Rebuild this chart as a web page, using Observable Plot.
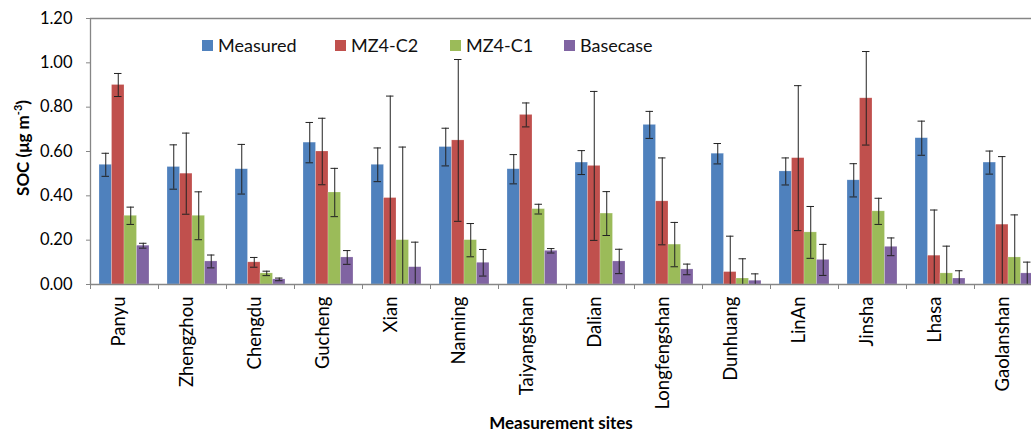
<!DOCTYPE html>
<html>
<head>
<meta charset="utf-8">
<script src="https://cdn.jsdelivr.net/npm/d3@7"></script>
<script src="https://cdn.jsdelivr.net/npm/@observablehq/plot@0.6"></script>
<style>
  html, body { margin: 0; padding: 0; background: #fff; }
  #wrap { position: relative; width: 1031px; height: 432px; overflow: hidden; font-family: Lato, "Open Sans", sans-serif; }
  .leg { position: absolute; top: 34px; font-size: 18px; line-height: 22px; color: #111; display: flex; align-items: center; }
  .leg span.sw { display: inline-block; width: 11px; height: 11px; margin-right: 5px; }
  #ytitle { position: absolute; left: 22px; top: 148px; transform: translate(-50%, -50%) rotate(-90deg); font-weight: bold; font-size: 17px; white-space: nowrap; color: #000; }
  #xtitle { position: absolute; left: 561px; top: 422px; transform: translate(-50%, -50%); font-weight: bold; font-size: 17px; white-space: nowrap; color: #000; }
</style>
</head>
<body>
<div id="wrap"></div>
<script>
const sites = ["Panyu","Zhengzhou","Chengdu","Gucheng","Xian","Nanning","Taiyangshan","Dalian","Longfengshan","Dunhuang","LinAn","Jinsha","Lhasa","Gaolanshan"];
const seriesNames = ["Measured","MZ4-C2","MZ4-C1","Basecase"];
const seriesColors = ["#4F81BD","#C0504D","#9BBB59","#8064A2"];
const measured    = [0.54,0.53,0.52,0.64,0.54,0.62,0.52,0.55,0.72,0.59,0.51,0.47,0.66,0.55];
const measuredErr = [0.052,0.10,0.112,0.091,0.076,0.085,0.066,0.054,0.061,0.046,0.061,0.075,0.077,0.052];
const mz4c2       = [0.90,0.50,0.10,0.60,0.39,0.65,0.765,0.535,0.375,0.056,0.57,0.84,0.13,0.27];
const mz4c2Err    = [0.052,0.183,0.022,0.15,0.46,0.365,0.054,0.336,0.196,0.162,0.327,0.211,0.206,0.307];
const mz4c1       = [0.31,0.31,0.05,0.415,0.20,0.20,0.34,0.32,0.18,0.027,0.235,0.33,0.05,0.122];
const mz4c1Err    = [0.039,0.108,0.01,0.109,0.42,0.075,0.022,0.099,0.10,0.089,0.117,0.059,0.123,0.192];
const basecase    = [0.175,0.104,0.023,0.122,0.078,0.098,0.152,0.104,0.068,0.017,0.111,0.17,0.027,0.05];
const basecaseErr = [0.011,0.029,0.006,0.031,0.113,0.06,0.01,0.055,0.024,0.031,0.07,0.04,0.035,0.051];
const yTicks = [0,0.2,0.4,0.6,0.8,1.0,1.2];

const values = [measured, mz4c2, mz4c1, basecase];
const errs = [measuredErr, mz4c2Err, mz4c1Err, basecaseErr];
const rows = [];
sites.forEach((s, i) => seriesNames.forEach((n, k) => rows.push({site: s, i, k, series: n, value: values[k][i], err: errs[k][i]})));

const OFF = 0.1325, BW = 0.18375;
const x1 = d => d.i + OFF + d.k * BW;
const xc = d => d.i + OFF + (d.k + 0.5) * BW;

const chart = Plot.plot({
  width: 1031,
  height: 432,
  marginLeft: 90,
  marginRight: 0,
  marginTop: 18,
  marginBottom: 148,
  style: {fontFamily: "Lato, 'Open Sans', sans-serif", fontSize: "16px", color: "#000", background: "#fff", overflow: "hidden"},
  x: {domain: [0, sites.length], range: [90, 1042]},
  y: {domain: [0, 1.2], range: [284, 18]},
  color: {domain: seriesNames, range: seriesColors},
  marks: [
    Plot.rectY(rows, {x1: x1, x2: d => x1(d) + BW, y: "value", fill: "series", stroke: "#ffffff", strokeOpacity: 0.35, strokeWidth: 0.6}),
    Plot.ruleX(rows, {x: xc, y1: d => d.value - d.err, y2: d => d.value + d.err, stroke: "#222", strokeWidth: 1, clip: true}),
    Plot.ruleY(rows, {y: d => d.value + d.err, x1: d => xc(d) - 0.055, x2: d => xc(d) + 0.055, stroke: "#222", strokeWidth: 1, clip: true}),
    Plot.ruleY(rows, {y: d => d.value - d.err, x1: d => xc(d) - 0.055, x2: d => xc(d) + 0.055, stroke: "#222", strokeWidth: 1, clip: true}),
    Plot.ruleY([1.2], {stroke: "#868686", strokeWidth: 1.3}),
    Plot.ruleY([0], {stroke: "#868686", strokeWidth: 1.3}),
    Plot.ruleX([0], {stroke: "#868686", strokeWidth: 1.3}),
    Plot.axisY({ticks: yTicks, tickFormat: d3.format(".2f"), tickSize: 4, tickPadding: 14, label: null, stroke: "#868686", fontSize: 16.5, fill: "#000"}),
    Plot.axisX({ticks: d3.range(sites.length + 1), tickSize: 5, tickFormat: () => "", label: null, stroke: "#868686"}),
    Plot.text(sites, {x: (d, i) => i + 0.5, text: d => d, frameAnchor: "bottom", dy: 12, rotate: -90, textAnchor: "end", fontSize: 18.5, fill: "#000"})
  ]
});

const wrap = document.getElementById("wrap");
wrap.appendChild(chart);

const legX = [202, 335, 450, 564];
seriesNames.forEach((n, k) => {
  const d = document.createElement("div");
  d.className = "leg";
  d.style.left = legX[k] + "px";
  d.innerHTML = `<span class="sw" style="background:${seriesColors[k]}"></span>${n}`;
  wrap.appendChild(d);
});
const yt = document.createElement("div");
yt.id = "ytitle";
yt.innerHTML = "SOC (μg m<sup style='font-size:11px'>-3</sup>)";
wrap.appendChild(yt);
const xt = document.createElement("div");
xt.id = "xtitle";
xt.textContent = "Measurement sites";
wrap.appendChild(xt);
</script>
</body>
</html>
